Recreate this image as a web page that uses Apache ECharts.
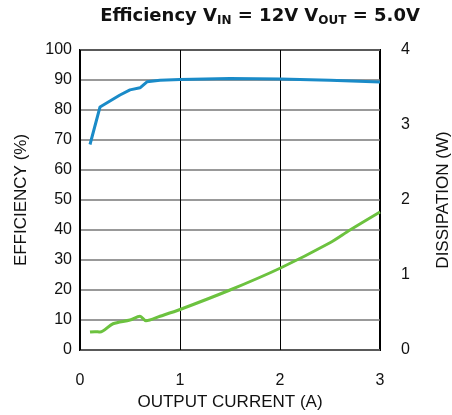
<!DOCTYPE html>
<html>
<head>
<meta charset="utf-8">
<script src="https://cdn.jsdelivr.net/npm/echarts@6/dist/echarts.min.js"></script>
<style>
  html, body { margin: 0; padding: 0; background: #fff; }
  #main { width: 452px; height: 415px; }
</style>
</head>
<body>
<div id="main"></div>
<script>
// 输出电流 (A)
var currentA = [0.1, 0.2, 0.3, 0.4, 0.5, 0.6, 0.67, 0.8, 1.0, 1.5, 2.0, 2.5, 3.0];
// 效率 (%)
var efficiency = [68.5, 81, 83, 85, 86.7, 87.4, 89.4, 89.9, 90.2, 90.5, 90.3, 89.9, 89.3];
// 损耗电流 (A) 与损耗 (W)
var dissCurrent = [0.1, 0.15, 0.2, 0.33, 0.5, 0.6, 0.66, 0.8, 1.0, 1.5, 2.0, 2.5, 2.7, 3.0];
var dissipation = [0.24, 0.245, 0.24, 0.35, 0.4, 0.45, 0.39, 0.45, 0.54, 0.8, 1.09, 1.43, 1.6, 1.84];

var effTicks = [0, 10, 20, 30, 40, 50, 60, 70, 80, 90, 100];
var dissTicks = [0, 1, 2, 3, 4];

function pairs(xs, ys) {
  return xs.map(function (x, i) { return [x, ys[i]]; });
}

var myChart = echarts.init(document.getElementById('main'));
var font = 'Liberation Sans, Arial, sans-serif';
var options = {
  backgroundColor: '#fff',
  animation: false,
  title: {
    text: '{b|Efficiency V}{s|IN}{b| = 12V V}{s|OUT}{b| = 5.0V}',
    left: 255,
    textAlign: 'center',
    top: 0,
    textStyle: {
      rich: {
        b: { fontSize: 18, fontWeight: 'bold', color: '#111', fontFamily: 'DejaVu Sans' },
        s: { fontSize: 12, fontWeight: 'bold', color: '#111', fontFamily: 'DejaVu Sans', padding: [10, 0, 0, 0] }
      }
    }
  },
  grid: {
    left: 80, right: 72, top: 50, bottom: 65,
    outerBoundsMode: 'none',
    show: true, borderColor: '#000', borderWidth: 2, backgroundColor: 'transparent'
  },
  xAxis: {
    type: 'value', min: 0, max: 3, interval: 1,
    name: 'OUTPUT CURRENT (A)', nameLocation: 'middle', nameGap: 42,
    nameTextStyle: { fontSize: 17, color: '#111', fontFamily: font },
    axisLine: { show: false },
    axisTick: { show: false },
    axisLabel: { fontSize: 16, color: '#111', margin: 23, fontFamily: font },
    splitLine: { show: true, lineStyle: { color: '#000', width: 1 } }
  },
  yAxis: [
    {
      type: 'value', min: 0, max: 100, interval: 10,
      name: 'EFFICIENCY (%)', nameLocation: 'middle', nameGap: 50,
      nameTextStyle: { fontSize: 17, color: '#111', fontFamily: font },
      axisLine: { show: false },
      axisTick: { show: false },
      axisLabel: { fontSize: 16, color: '#111', margin: 8, fontFamily: font,
        formatter: function (v) { return effTicks.indexOf(v) >= 0 ? v : ''; } },
      splitLine: { show: true, lineStyle: { color: '#777', width: 1.5 } }
    },
    {
      type: 'value', min: 0, max: 4, interval: 1,
      name: 'DISSIPATION (W)', nameLocation: 'middle', nameGap: 55,
      nameTextStyle: { fontSize: 17, color: '#111', fontFamily: font },
      axisLine: { show: false },
      axisTick: { show: false },
      axisLabel: { fontSize: 16, color: '#111', margin: 21, fontFamily: font,
        formatter: function (v) { return dissTicks.indexOf(v) >= 0 ? v : ''; } },
      splitLine: { show: false }
    }
  ],
  series: [
    {
      name: 'Efficiency', type: 'line', yAxisIndex: 0,
      data: pairs(currentA, efficiency),
      smooth: false, showSymbol: false,
      lineStyle: { color: '#1a8bc8', width: 3 }
    },
    {
      name: 'Dissipation', type: 'line', yAxisIndex: 1,
      data: pairs(dissCurrent, dissipation),
      smooth: 0.3, showSymbol: false,
      lineStyle: { color: '#6cc23f', width: 3 }
    }
  ]
};
myChart.setOption(options);
</script>
</body>
</html>
